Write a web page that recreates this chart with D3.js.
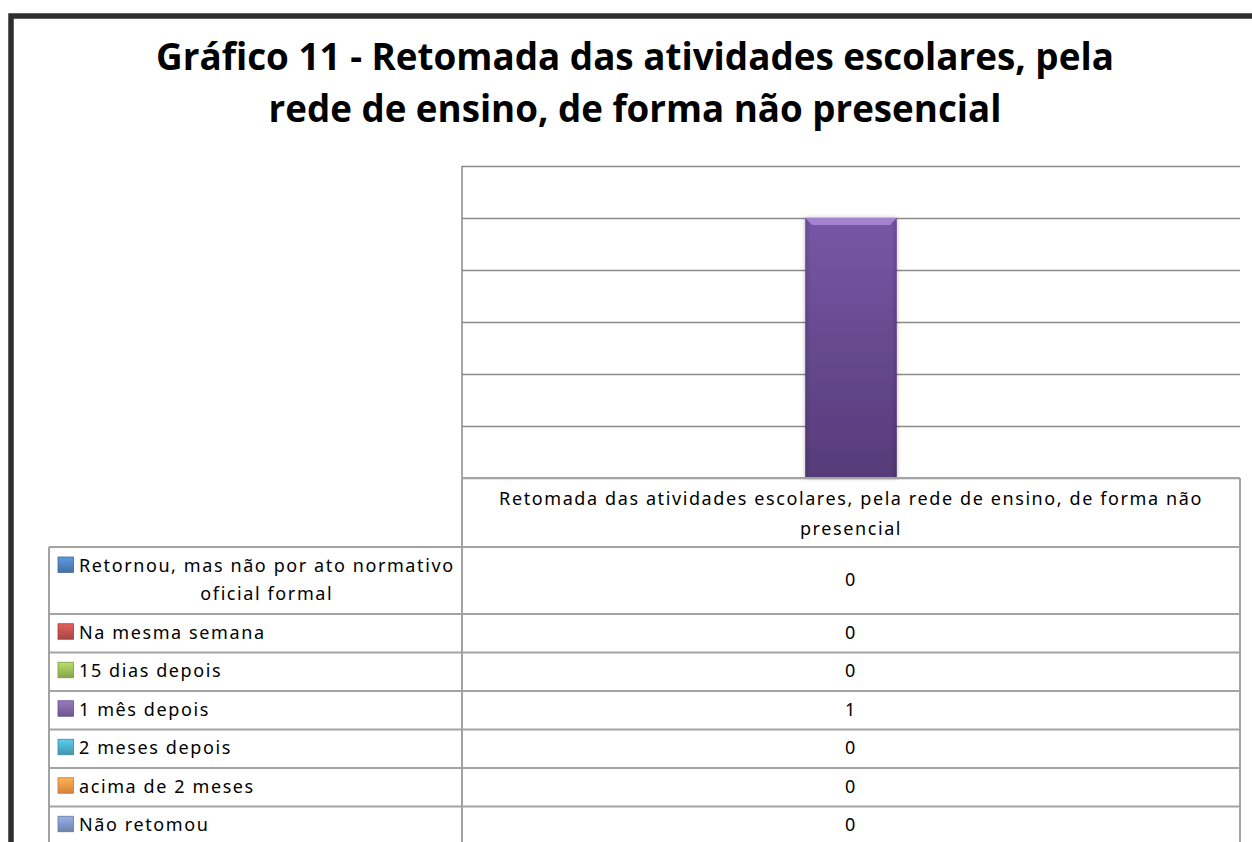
<!DOCTYPE html>
<html>
<head>
<meta charset="utf-8">
<script src="https://cdn.jsdelivr.net/npm/d3@7"></script>
<style>
  html, body { margin: 0; padding: 0; background: #fff; }
  svg { display: block; }
</style>
</head>
<body>
<div id="chart"></div>
<script>
(function (d3) {

  // chart data
  var titleLines = [
    "Gráfico 11 - Retomada das atividades escolares, pela",
    "rede de ensino, de forma não presencial"
  ];
  var categories = ["Retomada das atividades escolares, pela rede de ensino, de forma não presencial"];
  var seriesNames = [
    "Retornou, mas não por ato normativo oficial formal",
    "Na mesma semana",
    "15 dias depois",
    "1 mês depois",
    "2 meses depois",
    "acima de 2 meses",
    "Não retomou"
  ];
  var seriesValues = [0, 0, 0, 1, 0, 0, 0];
  var yTicks = [0, 0.2, 0.4, 0.6, 0.8, 1, 1.2];

  // office 2007 palette
  var palette = ["#4f81bd", "#c0504d", "#9bbb59", "#8064a2", "#4bacc6", "#f79646", "#7f96c4"];

  var width = 1252;
  var height = 842;
  var plotLeft = 462, plotRight = 1240, plotTop = 166, plotBottom = 478;
  var tableLeft = 49;
  var headerBottom = 547;
  var firstRowH = 67, rowH = 38.5;
  var gridColor = "#8a8a8a";
  var tableColor = "#a3a3a3";
  var textFont = "'Noto Sans', 'Open Sans', sans-serif";

  var svg = d3.select('#chart')
      .append('svg')
      .attr('width', width)
      .attr('height', height);

  svg.append('rect')
      .attr('width', width)
      .attr('height', height)
      .attr('fill', '#fff');

  var defs = svg.append('defs');

  var barGrad = defs.append('linearGradient')
      .attr('id', 'barGrad')
      .attr('x1', 0).attr('y1', 0).attr('x2', 0).attr('y2', 1);
  barGrad.append('stop').attr('offset', '0%').attr('stop-color', '#7757a6');
  barGrad.append('stop').attr('offset', '100%').attr('stop-color', '#563b78');

  var sideGrad = defs.append('linearGradient')
      .attr('id', 'sideGrad')
      .attr('x1', 0).attr('y1', 0).attr('x2', 1).attr('y2', 0);
  sideGrad.append('stop').attr('offset', '0%').attr('stop-color', '#000').attr('stop-opacity', 0.12);
  sideGrad.append('stop').attr('offset', '6%').attr('stop-color', '#000').attr('stop-opacity', 0);
  sideGrad.append('stop').attr('offset', '94%').attr('stop-color', '#000').attr('stop-opacity', 0);
  sideGrad.append('stop').attr('offset', '100%').attr('stop-color', '#000').attr('stop-opacity', 0.15);

  defs.append('filter')
      .attr('id', 'barShadow')
      .attr('x', '-20%').attr('y', '-5%').attr('width', '140%').attr('height', '110%')
    .append('feDropShadow')
      .attr('dx', 0).attr('dy', 0)
      .attr('stdDeviation', 2)
      .attr('flood-color', '#000')
      .attr('flood-opacity', 0.3);

  palette.forEach(function (c, i) {
    var g = defs.append('linearGradient')
        .attr('id', 'key' + i)
        .attr('x1', 0).attr('y1', 0).attr('x2', 0).attr('y2', 1);
    g.append('stop').attr('offset', '0%').attr('stop-color', d3.color(c).brighter(0.5));
    g.append('stop').attr('offset', '100%').attr('stop-color', d3.color(c).darker(0.4));
  });

  // outer frame
  svg.append('rect')
      .attr('x', 11)
      .attr('y', 16)
      .attr('width', width + 40)
      .attr('height', height + 40)
      .attr('fill', 'none')
      .attr('stroke', '#2e2e2e')
      .attr('stroke-width', 5.5);

  // title, fitted to the reference widths
  var titleWidths = [958, 733];
  var titleBase = [70, 122];
  svg.selectAll('.title')
      .data(titleLines)
      .enter()
      .append('text')
      .attr('class', 'title')
      .attr('x', 635)
      .attr('y', function (d, i) { return titleBase[i]; })
      .attr('text-anchor', 'middle')
      .attr('font-family', "'Open Sans', sans-serif")
      .attr('font-weight', 700)
      .attr('font-size', 40)
      .attr('fill', '#000')
      .text(function (d) { return d; })
      .each(function (d, i) {
        var w = this.getComputedTextLength();
        d3.select(this).attr('font-size', 40 * titleWidths[i] / w);
      });

  // scales
  var x0 = d3.scaleBand()
      .domain(categories)
      .range([plotLeft, plotRight]);

  var x1 = d3.scaleBand()
      .domain(seriesNames)
      .range([0, x0.bandwidth()])
      .paddingInner(0)
      .paddingOuter(0.75);

  var y = d3.scaleLinear()
      .domain([0, 1.2])
      .range([plotBottom, plotTop]);

  // gridlines
  var grid = svg.append('g')
      .attr('transform', 'translate(' + plotLeft + ',0)')
      .call(d3.axisLeft(y)
        .tickValues(yTicks)
        .tickSize(-(plotRight - plotLeft))
        .tickFormat(''));
  grid.select('.domain').remove();
  grid.selectAll('.tick line')
      .attr('stroke', gridColor)
      .attr('stroke-width', 1.5);

  // bars
  var bars = svg.append('g')
      .selectAll('g')
      .data(categories)
      .enter()
      .append('g')
      .attr('transform', function (d) { return 'translate(' + x0(d) + ',0)'; });

  var barData = seriesNames.map(function (s, i) {
    return { name: s, value: seriesValues[i], index: i };
  }).filter(function (d) { return d.value > 0; });

  var bar = bars.selectAll('.bar')
      .data(barData)
      .enter()
      .append('g')
      .attr('class', 'bar');

  bar.append('rect')
      .attr('x', function (d) { return x1(d.name); })
      .attr('y', function (d) { return y(d.value); })
      .attr('width', x1.bandwidth())
      .attr('height', function (d) { return y(0) - y(d.value); })
      .attr('fill', 'url(#barGrad)')
      .attr('filter', 'url(#barShadow)');

  bar.append('rect')
      .attr('x', function (d) { return x1(d.name); })
      .attr('y', function (d) { return y(d.value); })
      .attr('width', x1.bandwidth())
      .attr('height', function (d) { return y(0) - y(d.value); })
      .attr('fill', 'url(#sideGrad)');

  // top bevel
  bar.append('path')
      .attr('d', function (d) {
        var bx = x1(d.name), by = y(d.value), bw = x1.bandwidth(), b = 7;
        return 'M' + bx + ',' + by + 'H' + (bx + bw) + 'L' + (bx + bw - b) + ',' + (by + b) +
          'H' + (bx + b) + 'Z';
      })
      .attr('fill', '#a88ad6')
      .attr('opacity', 0.9);

  // axis line
  svg.append('line')
      .attr('x1', plotLeft).attr('x2', plotLeft)
      .attr('y1', plotTop).attr('y2', plotBottom)
      .attr('stroke', gridColor)
      .attr('stroke-width', 1.5);

  // data table
  var rowTops = [headerBottom];
  seriesNames.forEach(function (s, i) {
    rowTops.push(rowTops[i] + (i === 0 ? firstRowH : rowH));
  });

  var table = svg.append('g').attr('class', 'table');

  function hline(x1p, x2p, yp) {
    table.append('line')
        .attr('x1', x1p).attr('x2', x2p)
        .attr('y1', yp).attr('y2', yp)
        .attr('stroke', tableColor)
        .attr('stroke-width', 2);
  }
  function vline(xp, y1p, y2p) {
    table.append('line')
        .attr('x1', xp).attr('x2', xp)
        .attr('y1', y1p).attr('y2', y2p)
        .attr('stroke', tableColor)
        .attr('stroke-width', 2);
  }

  hline(plotLeft, plotRight, plotBottom);
  rowTops.forEach(function (t) { hline(tableLeft, plotRight, t); });
  vline(plotLeft, plotBottom, rowTops[rowTops.length - 1]);
  vline(plotRight, plotBottom, rowTops[rowTops.length - 1]);
  vline(tableLeft, headerBottom, rowTops[rowTops.length - 1]);

  function wrapLines(sel, str, maxW) {
    var words = str.split(' ');
    var lines = [];
    var cur = '';
    words.forEach(function (w) {
      var test = cur ? cur + ' ' + w : w;
      sel.text(test);
      if (sel.node().getComputedTextLength() > maxW && cur) {
        lines.push(cur);
        cur = w;
      } else {
        cur = test;
      }
    });
    lines.push(cur);
    sel.text('');
    return lines;
  }

  function styleText(t) {
    return t.attr('font-family', textFont)
        .attr('font-size', 18)
        .style('letter-spacing', '1.6px')
        .attr('fill', '#000');
  }

  // header (category) cell
  var cx = x0(categories[0]) + x0.bandwidth() / 2;
  var header = styleText(table.append('text'))
      .attr('text-anchor', 'middle');
  var hLines = wrapLines(header, categories[0], 740);
  header.selectAll('tspan')
      .data(hLines)
      .enter()
      .append('tspan')
      .attr('x', cx)
      .attr('y', function (d, i) { return 505 + i * 30; })
      .text(function (d) { return d; });

  // series rows
  var rows = table.selectAll('.row')
      .data(seriesNames)
      .enter()
      .append('g')
      .attr('class', 'row');

  var keyX = 58, textX = 79;

  rows.each(function (name, i) {
    var g = d3.select(this);
    var top = rowTops[i], bottom = rowTops[i + 1];
    var mid = (top + bottom) / 2;

    var label = styleText(g.append('text'));
    var lines = wrapLines(label, name, 400);
    var lineH = 28;
    var base0 = mid + 5.5 - (lines.length - 1) * lineH / 2;

    var widths = lines.map(function (l) {
      label.text(l);
      return label.node().getComputedTextLength();
    });
    label.text('');
    var maxW = d3.max(widths);

    if (lines.length > 1) {
      label.attr('text-anchor', 'middle');
    }
    label.selectAll('tspan')
        .data(lines)
        .enter()
        .append('tspan')
        .attr('x', lines.length > 1 ? textX + maxW / 2 : textX)
        .attr('y', function (d, j) { return base0 + j * lineH; })
        .text(function (d) { return d; });

    g.append('rect')
        .attr('x', keyX)
        .attr('y', base0 - 15)
        .attr('width', 15.5)
        .attr('height', 15.5)
        .attr('fill', 'url(#key' + i + ')')
        .attr('stroke', d3.color(palette[i]).darker(0.6))
        .attr('stroke-width', 0.8);

    styleText(g.append('text'))
        .attr('x', cx)
        .attr('y', mid + 5.5)
        .attr('text-anchor', 'middle')
        .text(seriesValues[i]);
  });

})(window.d3);
</script>
</body>
</html>
